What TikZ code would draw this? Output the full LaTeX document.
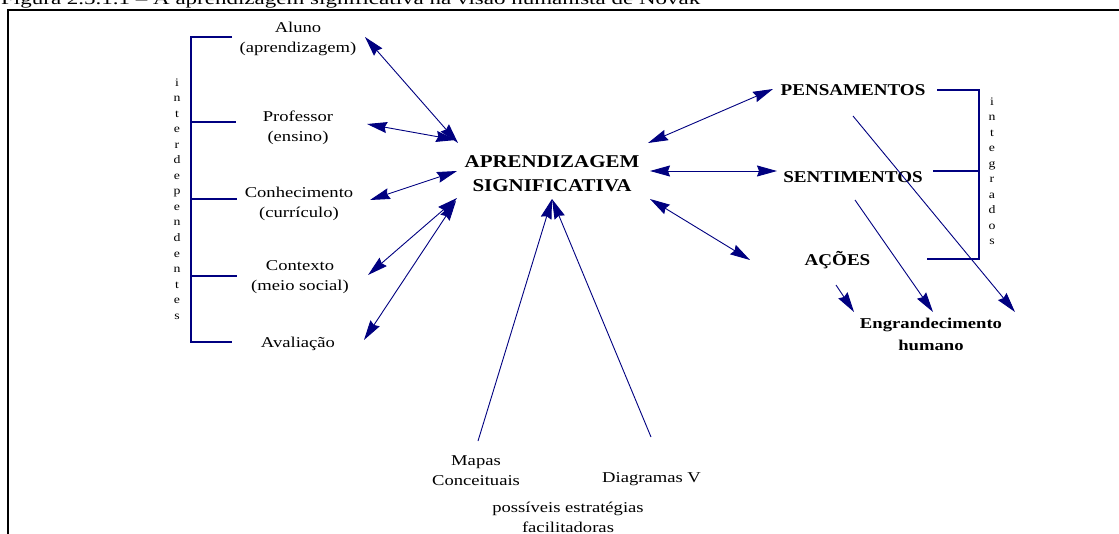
\documentclass[tikz,border=0pt]{standalone}
\usepackage{graphicx}
\usepackage{fontspec}
\setmainfont{Liberation Serif}
\usetikzlibrary{arrows.meta}
\definecolor{navyline}{RGB}{0,0,128}
% horizontally stretched, centred block of lines; baseline = first line
\newcommand\stretched[2]{\scalebox{#1}[1]{\begin{tabular}[t]{@{}c@{}}#2\end{tabular}}}

\begin{document}
\begin{tikzpicture}[x=1pt,y=-1pt,
  >={Stealth[length=20pt,width=11pt,inset=2pt]},
  lbl/.style={font=\fontsize{15}{20}\selectfont, inner sep=0pt, anchor=base},
  core/.style={font=\bfseries\fontsize{18}{24}\selectfont, inner sep=0pt, anchor=base},
  goal/.style={font=\bfseries\fontsize{16.5}{22}\selectfont, inner sep=0pt, anchor=base},
  result/.style={font=\bfseries\fontsize{15}{22}\selectfont, inner sep=0pt, anchor=base},
  vert/.style={font=\fontsize{11.5}{15.55}\selectfont, inner sep=0pt, anchor=base},
  link/.style={draw=navyline, line width=0.9pt},
  bracket/.style={draw=navyline, line width=2pt, line join=miter},
  thinbracket/.style={draw=navyline, line width=1.2pt}]
\useasboundingbox (0,0) rectangle (1119,533);

% caption and frame
\node[anchor=base west, inner sep=0pt, font=\fontsize{17}{20}\selectfont] (caption) at (1,4.5)
  {\resizebox{699pt}{\height}{Figura 2.5.1.1 – A aprendizagem significativa na visão humanista de Novak}};
\draw[line width=1.5pt] (8,545) -- (8,10) -- (1130,10);

% left column
\node[lbl] (aluno) at (298,32) {\stretched{1.24}{Aluno\\(aprendizagem)}};
\node[lbl] (prof)  at (298,121) {\stretched{1.24}{Professor\\(ensino)}};
\node[lbl] (conh)  at (299,197) {\stretched{1.24}{Conhecimento\\(currículo)}};
\node[lbl] (cont)  at (300,270) {\stretched{1.24}{Contexto\\(meio social)}};
\node[lbl] (aval)  at (298,347) {\stretched{1.24}{Avaliação}};

% left bracket
\draw[bracket] (232,37) -- (191,37) -- (191,342) -- (232,342);
\draw[bracket] (191,122) -- (236,122);
\draw[bracket] (191,199) -- (237,199);
\draw[bracket] (191,276) -- (237,276);
\node[vert] (interdep) at (177,86) {\stretched{1.2}{i\\n\\t\\e\\r\\d\\e\\p\\e\\n\\d\\e\\n\\t\\e\\s}};

% centre
\node[core] (centre) at (552,167) {\stretched{1.165}{APRENDIZAGEM\\SIGNIFICATIVA}};

% right column
\node[goal] (pens) at (853,95) {\stretched{1.155}{PENSAMENTOS}};
\node[goal] (sent) at (853,182) {\stretched{1.155}{SENTIMENTOS}};
\node[goal] (acoes) at (837.5,265) {\stretched{1.155}{AÇÕES}};
\node[result] (engr) at (931,328) {\stretched{1.245}{Engrandecimento\\humano}};

% right bracket
\draw[bracket] (937,90) -- (979,90) -- (979,259) -- (927,259);
\draw[thinbracket] (933,171) -- (979,171);
\node[vert] (integ) at (992,105) {\stretched{1.2}{i\\n\\t\\e\\g\\r\\a\\d\\o\\s}};

% bottom
\node[lbl] (mapas) at (476,465) {\stretched{1.24}{Mapas\\Conceituais}};
\node[lbl] (diag) at (651.5,482) {\stretched{1.24}{Diagramas V}};
\node[lbl] (estr) at (568,512) {\stretched{1.24}{possíveis estratégias\\facilitadoras}};

% connector end points
\coordinate (alunoE) at (365,37);
\coordinate (profE)  at (367,124);
\coordinate (conhE)  at (370,200);
\coordinate (contE)  at (368,275);
\coordinate (avalE)  at (364,340);
\coordinate (cA) at (458,143);
\coordinate (cP) at (456,140);
\coordinate (cK) at (457,171);
\coordinate (cC) at (457,198);
\coordinate (cV) at (456,201);
\coordinate (cPens) at (648,143);
\coordinate (cSent) at (650,171);
\coordinate (cAcoes) at (650,199);
\coordinate (pensW) at (773,89);
\coordinate (sentW) at (777,171);
\coordinate (acoesW) at (750,260);
\coordinate (cBottom) at (552,199);
\coordinate (mapasN) at (478,441);
\coordinate (diagN) at (651,437);
\coordinate (pensS) at (853,116);
\coordinate (sentS) at (855,200);
\coordinate (acoesS) at (836,285);
\coordinate (engrA) at (1015,312);
\coordinate (engrB) at (933,312);
\coordinate (engrC) at (854,312);

% double-headed links with the centre
\draw[link,<->] (alunoE) -- (cA);
\draw[link,<->] (profE) -- (cP);
\draw[link,<->] (conhE) -- (cK);
\draw[link,<->] (contE) -- (cC);
\draw[link,<->] (avalE) -- (cV);
\draw[link,<->] (cPens) -- (pensW);
\draw[link,<->] (cSent) -- (sentW);
\draw[link,<->] (cAcoes) -- (acoesW);

% strategies towards the centre
\draw[link,->] (mapasN) -- (cBottom);
\draw[link,->] (diagN) -- (cBottom);

% towards Engrandecimento humano
\draw[link,->] (pensS) -- (engrA);
\draw[link,->] (sentS) -- (engrB);
\draw[link,->] (acoesS) -- (engrC);
\end{tikzpicture}
\end{document}
